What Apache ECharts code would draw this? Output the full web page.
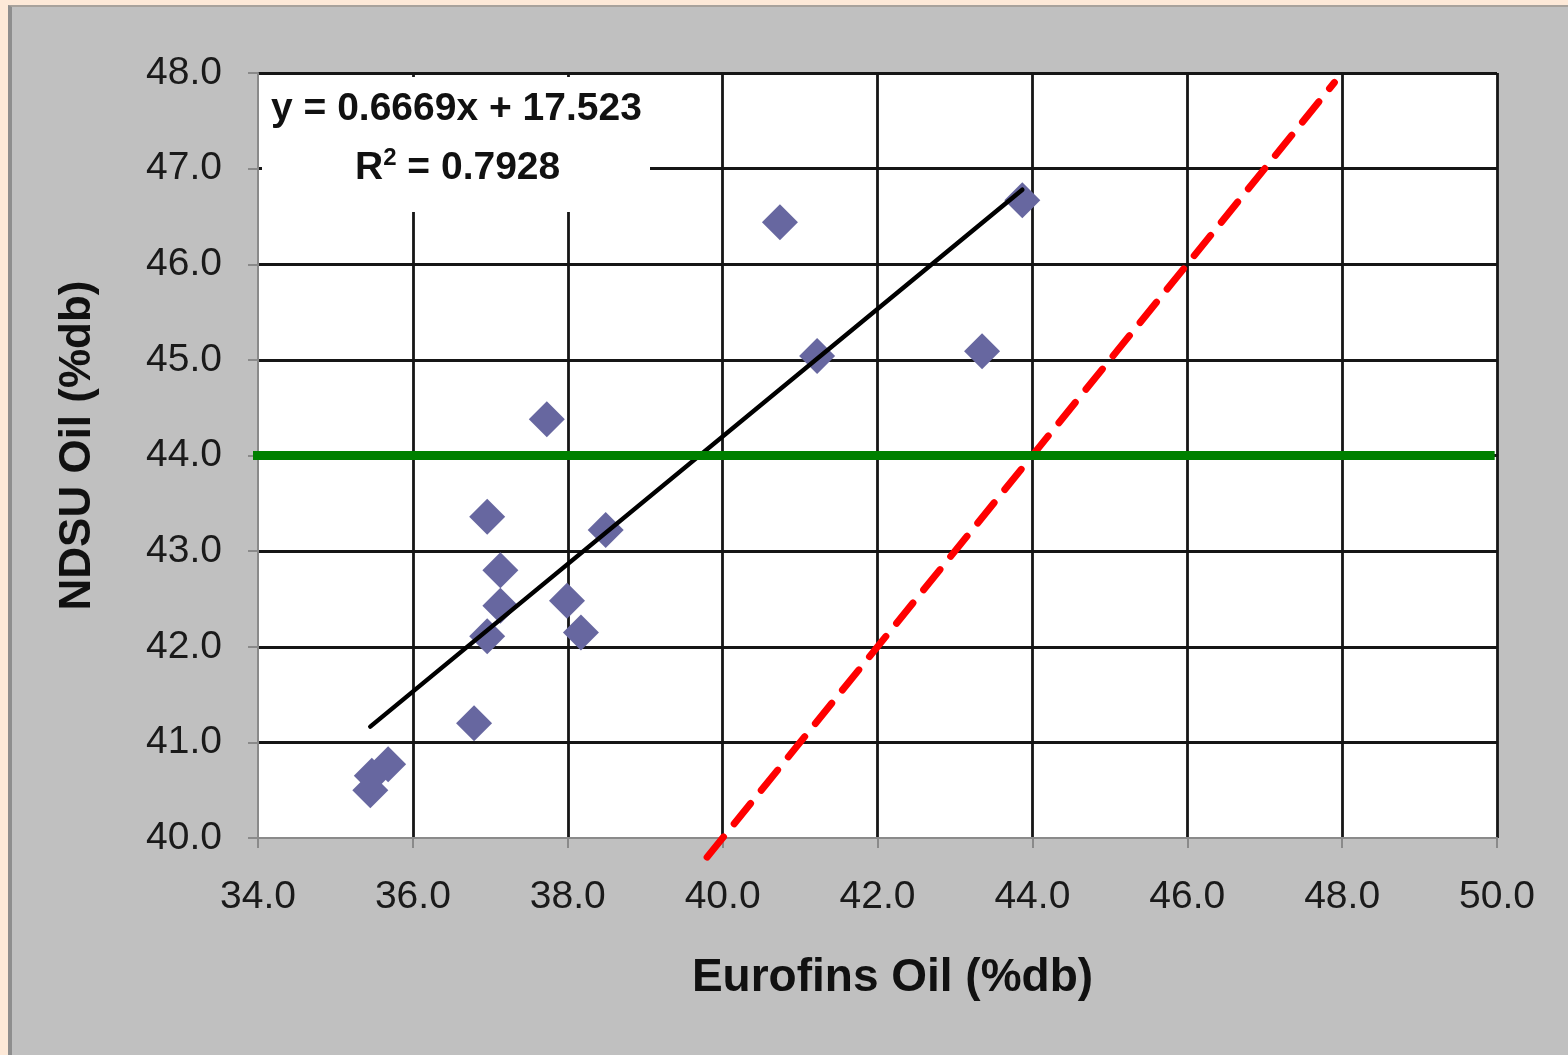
<!DOCTYPE html>
<html>
<head>
<meta charset="utf-8">
<script src="https://cdn.jsdelivr.net/npm/echarts@6/dist/echarts.min.js"></script>
<style>
  html, body { margin: 0; padding: 0; background: #fde9d8; width: 1568px; height: 1055px; overflow: hidden; }
  #panel { position: absolute; left: 8px; top: 5px; right: 0; bottom: 0; background: #c0c0c0;
           border-left: 4px solid #8e8e8e; border-top: 2px solid #a8a29c; }
  #chart { position: absolute; left: 0; top: 0; width: 1568px; height: 1055px; }
</style>
</head>
<body>
<div id="panel"></div>
<div id="chart"></div>
<script>
// Oil content: Eurofins lab value vs NDSU value (% dry basis)
const eurofinsOil = [35.45, 35.47, 35.68, 36.79, 36.96, 37.13, 37.13, 36.96,
                     37.73, 37.99, 38.17, 38.49, 40.74, 41.22, 43.35, 43.87];
const ndsuOil     = [40.50, 40.65, 40.77, 41.20, 43.36, 42.80, 42.43, 42.11,
                     44.38, 42.48, 42.15, 43.22, 46.44, 45.04, 45.09, 46.67];

// Linear fit reported on the chart
const fitSlope = 0.6669;
const fitIntercept = 17.523;
const fitR2 = 0.7928;

// 1:1 reference line ends and the 44% target level
const oneToOneEnds = [39.8, 47.9];
const targetLevel = 44.0;
const targetSpan = [33.88, 49.97];

// Axis tick labels
const xTickLabels = ['34.0', '36.0', '38.0', '40.0', '42.0', '44.0', '46.0', '48.0', '50.0'];
const yTickLabels = ['40.0', '41.0', '42.0', '43.0', '44.0', '45.0', '46.0', '47.0', '48.0'];

const FONT = '"Liberation Sans", Arial, Helvetica, sans-serif';

const points = eurofinsOil.map((x, i) => [x, ndsuOil[i]]);
const xMin = Math.min(...eurofinsOil), xMax = Math.max(...eurofinsOil);
const fitLine = [[xMin, fitSlope * xMin + fitIntercept], [xMax, fitSlope * xMax + fitIntercept]];

const chart = echarts.init(document.getElementById('chart'), null, { renderer: 'canvas' });

const gridLine = { color: '#161616', width: 2.8 };
const axisGray = { color: '#8a8a8a', width: 2 };

chart.setOption({
  backgroundColor: 'transparent',
  animation: false,
  grid: { left: 258, right: 71, top: 73, bottom: 217, show: true, backgroundColor: '#ffffff', borderWidth: 0 },
  xAxis: {
    type: 'value', min: 34, max: 50, interval: 2,
    axisLine: { show: true, onZero: false, lineStyle: axisGray },
    axisTick: { show: true, length: 10, lineStyle: axisGray },
    axisLabel: {
      fontFamily: FONT, fontSize: 39, color: '#1a1a1a', margin: 40,
      formatter: v => xTickLabels[Math.round((v - 34) / 2)]
    },
    splitLine: { show: true, showMinLine: false, lineStyle: gridLine },
    name: 'Eurofins Oil (%db)', nameLocation: 'middle', nameGap: 117,
    nameTextStyle: { fontFamily: FONT, fontSize: 46, fontWeight: 'bold', color: '#111', padding: [0, 0, 0, 30] }
  },
  yAxis: {
    type: 'value', min: 40, max: 48, interval: 1,
    axisLine: { show: true, onZero: false, lineStyle: axisGray },
    axisTick: { show: true, length: 10, lineStyle: axisGray },
    axisLabel: {
      fontFamily: FONT, fontSize: 39, color: '#1a1a1a', margin: 36,
      formatter: v => yTickLabels[Math.round(v - 40)]
    },
    splitLine: { show: true, showMinLine: false, lineStyle: gridLine },
    name: 'NDSU Oil (%db)', nameLocation: 'middle', nameGap: 158, nameRotate: 90,
    nameTextStyle: { fontFamily: FONT, fontSize: 44, fontWeight: 'bold', color: '#111', padding: [0, 0, 0, 20] }
  },
  graphic: [
    {
      type: 'rect', z: 5, silent: true,
      shape: { x: 262, y: 77, width: 388, height: 135 },
      style: { fill: '#ffffff' }
    },
    {
      type: 'text', z: 6, silent: true, left: 271, top: 90,
      style: {
        text: 'y = ' + fitSlope.toFixed(4) + 'x + ' + fitIntercept.toFixed(3),
        fontFamily: FONT, fontSize: 39, fontWeight: 'bold', fill: '#111'
      }
    },
    {
      type: 'text', z: 6, silent: true, left: 355, top: 146,
      style: {
        text: '{a|R}{s|2}{a| = ' + fitR2.toFixed(4) + '}',
        rich: {
          a: { fontFamily: FONT, fontSize: 39, fontWeight: 'bold', fill: '#111' },
          s: { fontFamily: FONT, fontSize: 24, fontWeight: 'bold', fill: '#111', padding: [0, 0, 20, 0] }
        }
      }
    }
  ],
  series: [
    {
      name: 'Samples', type: 'scatter', data: points, z: 2,
      symbol: 'diamond', symbolSize: 36,
      itemStyle: { color: '#6767a0', opacity: 1 }
    },
    {
      name: 'Linear fit', type: 'line', data: fitLine, z: 3,
      symbol: 'none', lineStyle: { color: '#000000', width: 4.5, cap: 'round' }
    },
    {
      name: '1:1', type: 'line', z: 3, clip: false, symbol: 'none',
      data: oneToOneEnds.map(v => [v, v]),
      lineStyle: { color: '#ff0000', width: 7, type: [26, 17], cap: 'round' }
    },
    {
      name: 'Target', type: 'line', z: 3, clip: false, symbol: 'none',
      data: targetSpan.map(x => [x, targetLevel]),
      lineStyle: { color: '#008000', width: 9 }
    }
  ]
});
</script>
</body>
</html>
